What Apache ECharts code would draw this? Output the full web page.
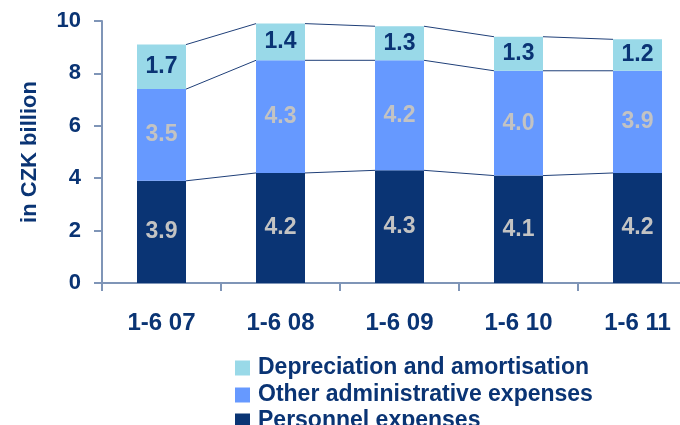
<!DOCTYPE html>
<html>
<head>
<meta charset="utf-8">
<script src="https://cdn.jsdelivr.net/npm/echarts@6/dist/echarts.min.js"></script>
<style>
  html, body { margin: 0; padding: 0; background: #fff; }
  #chart { width: 680px; height: 425px; }
</style>
</head>
<body>
<div id="chart"></div>
<script>
// Half-year operating costs, CZK billion
const categories = ['1-6 07', '1-6 08', '1-6 09', '1-6 10', '1-6 11'];
const personnel = [3.9, 4.2, 4.3, 4.1, 4.2];
const otherAdmin = [3.5, 4.3, 4.2, 4.0, 3.9];
const depreciation = [1.7, 1.4, 1.3, 1.3, 1.2];
const yTicks = [0, 2, 4, 6, 8, 10];
const legendNames = ['Depreciation and amortisation', 'Other administrative expenses', 'Personnel expenses'];

const NAVY = '#0a3474';
const AXIS = '#7f95b7';
const FONT = '"Liberation Sans", Arial, sans-serif';
const BAR_W = 49;

// cumulative tops of each stack layer, used by the connector lines
const levels = categories.map((c, i) => {
  const a = personnel[i];
  const b = a + otherAdmin[i];
  const t = b + depreciation[i];
  return [a, b, t];
});
const connectorData = [];
for (let i = 0; i < categories.length - 1; i++) {
  connectorData.push([i, ...levels[i], ...levels[i + 1]]);
}

const labelStyle = (color) => ({
  show: true,
  position: 'inside',
  color: color,
  fontFamily: FONT,
  fontWeight: 'bold',
  fontSize: 23,
  formatter: (p) => p.value.toFixed(1)
});

// one legend block per row so the list stacks in a single column
const legendTops = [356, 383, 409];
const legends = legendNames.map((name, k) => ({
  orient: 'vertical',
  left: 235,
  top: legendTops[k],
  padding: 0,
  itemWidth: 15,
  itemHeight: 15,
  icon: 'rect',
  data: [name],
  textStyle: {
    color: NAVY, fontFamily: FONT, fontWeight: 'bold', fontSize: 23, lineHeight: 24,
    padding: [0, 0, 0, 3]
  }
}));

const chart = echarts.init(document.getElementById('chart'));
chart.setOption({
  animation: false,
  grid: { left: 102, top: 21, width: 595, height: 262, outerBoundsMode: 'none', containLabel: false },
  legend: legends,
  xAxis: {
    type: 'category',
    data: categories,
    axisLine: { lineStyle: { color: AXIS, width: 2 } },
    axisTick: { show: true, length: 8, lineStyle: { color: AXIS, width: 2 } },
    axisLabel: { color: NAVY, fontFamily: FONT, fontWeight: 'bold', fontSize: 24, margin: 28 }
  },
  yAxis: {
    type: 'value',
    min: 0,
    max: 10,
    interval: 2,
    name: 'in CZK billion',
    nameLocation: 'middle',
    nameGap: 61,
    nameRotate: 90,
    nameTextStyle: { color: NAVY, fontFamily: FONT, fontWeight: 'bold', fontSize: 22 },
    splitLine: { show: false },
    axisLine: { show: true, lineStyle: { color: AXIS, width: 2 } },
    axisTick: { show: true, length: 8, lineStyle: { color: AXIS, width: 2 } },
    axisLabel: {
      color: NAVY, fontFamily: FONT, fontWeight: 'bold', fontSize: 22, margin: 21,
      formatter: (v) => yTicks.includes(v) ? String(v) : ''
    }
  },
  series: [
    {
      name: 'Personnel expenses',
      type: 'bar',
      stack: 'cost',
      barWidth: BAR_W,
      data: personnel,
      itemStyle: { color: NAVY },
      label: labelStyle('#c3c3c3')
    },
    {
      name: 'Other administrative expenses',
      type: 'bar',
      stack: 'cost',
      barWidth: BAR_W,
      data: otherAdmin,
      itemStyle: { color: '#6699ff' },
      label: labelStyle('#c3c3c3')
    },
    {
      name: 'Depreciation and amortisation',
      type: 'bar',
      stack: 'cost',
      barWidth: BAR_W,
      data: depreciation,
      itemStyle: { color: '#99d9e8' },
      label: labelStyle(NAVY)
    },
    {
      // series lines joining the stack layers of neighbouring bars
      type: 'custom',
      silent: true,
      z: 1,
      data: connectorData,
      renderItem: (params, api) => {
        const i = api.value(0);
        const half = BAR_W / 2;
        const children = [];
        for (let k = 0; k < 3; k++) {
          const p1 = api.coord([i, api.value(1 + k)]);
          const p2 = api.coord([i + 1, api.value(4 + k)]);
          children.push({
            type: 'line',
            shape: { x1: p1[0] + half, y1: p1[1], x2: p2[0] - half, y2: p2[1] },
            style: { stroke: '#1f3f78', lineWidth: 1 }
          });
        }
        return { type: 'group', children };
      }
    }
  ]
});
</script>
</body>
</html>
